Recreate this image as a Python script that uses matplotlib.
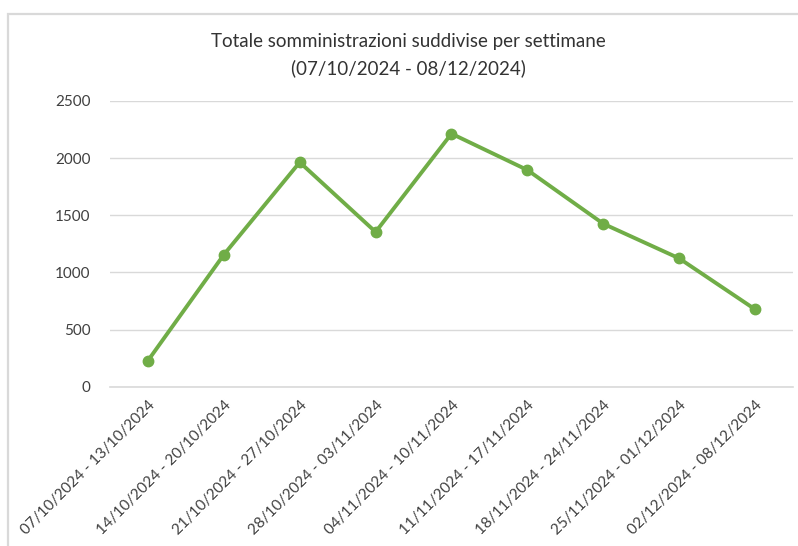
import matplotlib
matplotlib.use("Agg")
import matplotlib.pyplot as plt
from matplotlib.patches import Rectangle

weeks = ["07/10/2024 - 13/10/2024", "14/10/2024 - 20/10/2024", "21/10/2024 - 27/10/2024",
         "28/10/2024 - 03/11/2024", "04/11/2024 - 10/11/2024", "11/11/2024 - 17/11/2024",
         "18/11/2024 - 24/11/2024", "25/11/2024 - 01/12/2024", "02/12/2024 - 08/12/2024"]
values = [228, 1155, 1964, 1354, 2214, 1896, 1426, 1123, 677]
yticks = [0, 500, 1000, 1500, 2000, 2500]

plt.rcParams['font.family'] = ['Lato', 'DejaVu Sans']

W, H = 798, 546
fig = plt.figure(figsize=(W/100, H/100), dpi=100)
ax = fig.add_axes([110/W, 1-386.7/H, (793-110)/W, (386.7-101)/H])

x = list(range(len(weeks)))
ax.plot(x, values, color='#70AD47', lw=2.8, marker='o', markersize=7.5,
        solid_capstyle='round', solid_joinstyle='round', zorder=3)
ax.set_xlim(-0.5, len(weeks)-0.5)
ax.set_ylim(0, 2500)
ax.set_yticks(yticks)
ax.set_yticklabels([str(v) for v in yticks], fontsize=11, color='#404040')
ax.set_xticks(x)
ax.set_xticklabels(weeks, rotation=45, ha='right', rotation_mode='anchor',
                   fontsize=11, color='#404040')
ax.tick_params(axis='both', length=0)
ax.tick_params(axis='y', pad=14)
ax.tick_params(axis='x', pad=8)
ax.grid(axis='y', color='#d9d9d9', lw=1)
ax.set_axisbelow(True)
for s in ax.spines.values():
    s.set_visible(False)
ax.spines['bottom'].set_visible(True)
ax.spines['bottom'].set_color('#d9d9d9')
ax.spines['bottom'].set_linewidth(1.2)

fig.text(408/W, 1-42/H, "Totale somministrazioni suddivise per settimane",
         ha='center', va='center', fontsize=13.5, color='#333333')
fig.text(408/W, 1-68/H, "(07/10/2024 - 08/12/2024)",
         ha='center', va='center', fontsize=13.5, color='#333333')

fig.patches.append(Rectangle((8/W, -0.1), 1.1, 1.1 - 14/H, transform=fig.transFigure,
                             fill=False, edgecolor='#d9d9d9', lw=1.6))

fig.savefig("out.png", dpi=100, facecolor='white')
